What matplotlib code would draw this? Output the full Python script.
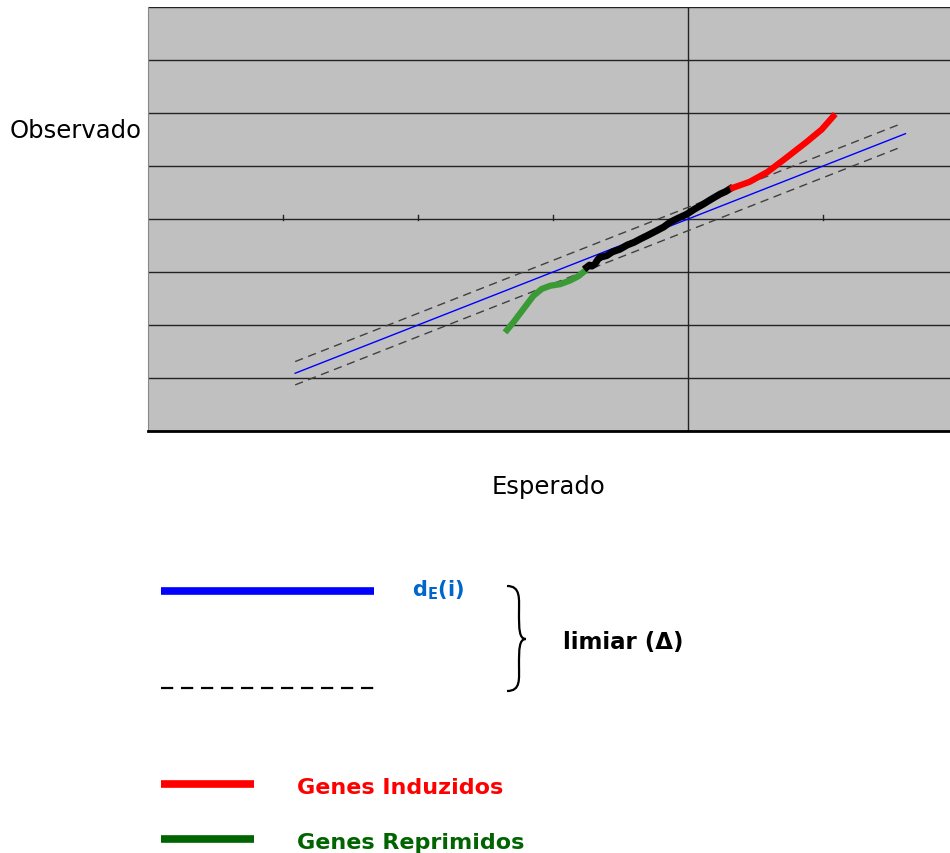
import numpy as np
import matplotlib
matplotlib.use("Agg")
import matplotlib.pyplot as plt
from matplotlib.path import Path
from matplotlib.patches import PathPatch

# expected vs observed (SAM plot)
esperado = [-2.91, 1.61]
delta = 0.22
dashed_x = [-2.91, 1.57]

black_x = [-0.750, -0.730, -0.713, -0.689, -0.670, -0.652, -0.630, -0.602, -0.560,
           -0.504, -0.450, -0.400, -0.356, -0.300, -0.232, -0.180, -0.133, -0.070,
           -0.010, 0.050, 0.113, 0.170, 0.237, 0.280, 0.311]
black_y = [-0.91, -0.87, -0.89, -0.85, -0.77, -0.72, -0.71, -0.69, -0.62,
           -0.57, -0.49, -0.44, -0.38, -0.31, -0.22, -0.15, -0.06, 0.02,
           0.09, 0.19, 0.28, 0.37, 0.47, 0.52, 0.57]

red_x = [0.311, 0.455, 0.59, 0.72, 0.876, 0.99, 1.09]
red_y = [0.57, 0.70, 0.89, 1.14, 1.45, 1.69, 1.98]

green_x = [-1.356, -1.294, -1.22, -1.146, -1.084, -1.022, -0.948, -0.874, -0.813, -0.750]
green_y = [-2.14, -1.95, -1.70, -1.45, -1.32, -1.26, -1.23, -1.16, -1.08, -0.95]

xticks = [-3, -2, -1, 0, 1]
yticks = [-4, -3, -2, -1, 0, 1, 2, 3, 4]

W, H = 950, 854
fig = plt.figure(figsize=(W / 100, H / 100), dpi=100)
ax = fig.add_axes([148 / W, 1 - 432 / H, 1 - 148 / W, (432 - 8) / H])
ax.set_facecolor("#c0c0c0")
ax.set_xlim(-4, 1.94)
ax.set_ylim(-4, 4)

for y in yticks:
    ax.axhline(y, color="#222222", lw=1.0, zorder=1)
ax.axvline(0, color="#222222", lw=1.0, zorder=1)

ax.spines["top"].set_visible(False)
ax.spines["right"].set_visible(False)
ax.spines["left"].set_color("#888888")
ax.spines["left"].set_linewidth(0.8)
ax.spines["bottom"].set_color("black")
ax.spines["bottom"].set_linewidth(2.0)
ax.set_xticks([])
ax.set_yticks([])
# small tick marks on the x = 0 axis line
for t in xticks:
    ax.plot([t, t], [-0.02, 0.07], color="#222222", lw=1.0, zorder=1)

ex = np.array(esperado)
ax.plot(ex, ex, color="#0000ff", lw=1.0, zorder=3)
dx = np.array(dashed_x)
ax.plot(dx, dx + delta, color="#404040", lw=1.0, ls=(0, (6, 4)), zorder=3)
ax.plot(dx, dx - delta, color="#404040", lw=1.0, ls=(0, (6, 4)), zorder=3)

ax.plot(green_x, green_y, color="#3a9a35", lw=4.5, solid_capstyle="butt", zorder=4)
ax.plot(black_x, black_y, color="black", lw=5.0, zorder=4)
ax.plot(red_x, red_y, color="#ff0000", lw=4.5, solid_capstyle="butt", zorder=4)

fig.text(10 / W, 1 - 131 / H, "Observado", fontsize=17.5, va="center", ha="left")
fig.text(548 / W, 1 - 487 / H, "Esperado", fontsize=17.5, va="center", ha="center")

# legend drawn on a pixel-space overlay
lg = fig.add_axes([0, 0, 1, 1])
lg.set_xlim(0, W)
lg.set_ylim(H, 0)
lg.axis("off")
lg.patch.set_alpha(0)

lg.plot([161, 374], [592, 592], color="#0000ff", lw=5.5, solid_capstyle="butt")
lg.plot([161, 374], [689, 689], color="black", lw=1.6, ls=(0, (5.5, 3.5)))
lg.plot([161, 254], [785, 785], color="#ff0000", lw=5.5, solid_capstyle="butt")
lg.plot([161, 254], [840, 840], color="#006400", lw=5.5, solid_capstyle="butt")

lg.text(412, 590, r"d$_\mathbf{E}$(i)", color="#0066cc", fontsize=15, fontweight="bold",
        va="center", ha="left")
lg.text(563, 643, "limiar (Δ)", color="black", fontsize=16.5, fontweight="bold",
        va="center", ha="left")
lg.text(297, 788, "Genes Induzidos", color="#ff0000", fontsize=16, fontweight="bold",
        va="center", ha="left")
lg.text(297, 843, "Genes Reprimidos", color="#006400", fontsize=16, fontweight="bold",
        va="center", ha="left")

# curly brace
brace_top = Path(
    [(507, 587), (521, 587), (519, 600), (519, 614),
     (519, 630), (519, 640), (526, 640)],
    [Path.MOVETO, Path.CURVE4, Path.CURVE4, Path.CURVE4,
     Path.CURVE4, Path.CURVE4, Path.CURVE4])
brace_bot = Path(
    [(526, 640), (519, 640), (519, 650), (519, 666),
     (519, 680), (521, 692), (507, 692)],
    [Path.MOVETO, Path.CURVE4, Path.CURVE4, Path.CURVE4,
     Path.CURVE4, Path.CURVE4, Path.CURVE4])
for p in (brace_top, brace_bot):
    lg.add_patch(PathPatch(p, fill=False, lw=1.6, color="black"))

fig.savefig("out.png", dpi=100)
